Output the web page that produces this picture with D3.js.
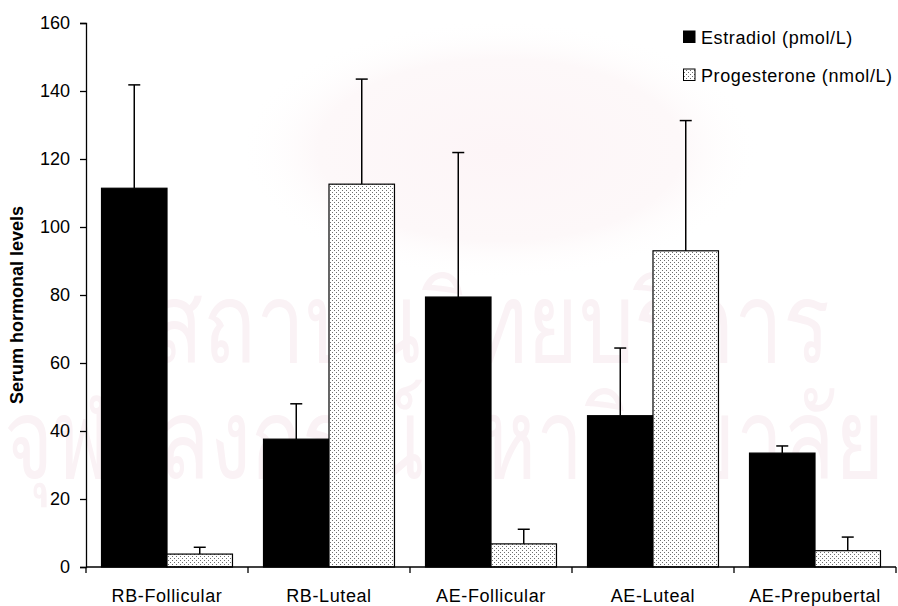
<!DOCTYPE html>
<html>
<head>
<meta charset="utf-8">
<script src="https://cdn.jsdelivr.net/npm/d3@7"></script>
<style>
  html, body { margin: 0; padding: 0; background: #fff; }
  svg { display: block; }
  text { font-family: "Liberation Sans", Arial, sans-serif; fill: #000; }
</style>
</head>
<body>
<svg id="chart" width="898" height="606"></svg>
<script>
// Groups along the x axis
const categories = ["RB-Follicular", "RB-Luteal", "AE-Follicular", "AE-Luteal", "AE-Prepubertal"];
// Series names shown in the legend
const seriesNames = ["Estradiol (pmol/L)", "Progesterone (nmol/L)"];
// Mean values per group
const estradiol = [111.4, 37.6, 79.4, 44.5, 33.5];
const progesterone = [3.8, 112.6, 6.8, 93.0, 4.8];
// Upper ends of the error bars (mean + SD)
const estradiolUpper = [141.8, 48.0, 121.9, 64.4, 35.6];
const progesteroneUpper = [5.8, 143.5, 11.1, 131.3, 8.8];
// Y axis ticks
const yTicks = [0, 20, 40, 60, 80, 100, 120, 140, 160];
const yLabel = "Serum hormonal levels";
// Background watermark text
const watermark = ["สถาบันวิทยบริการ", "จุฬาลงกรณ์มหาวิทยาลัย"];

const svg = d3.select("#chart");
const plotLeft = 86, plotRight = 896, plotTop = 23, plotBottom = 567;

const x = d3.scaleBand().domain(categories).range([plotLeft, plotRight]).paddingInner(0).paddingOuter(0);
const xs = d3.scaleBand().domain(seriesNames).range([0, x.bandwidth()]).paddingInner(0).paddingOuter(0.237);
const y = d3.scaleLinear().domain([0, 160]).range([plotBottom, plotTop]);

// Faint watermark: soft glow behind the top half and two lines of text
const wm = svg.append("g");
const glow = svg.append("defs").append("radialGradient").attr("id", "glow");
glow.append("stop").attr("offset", "0%").attr("stop-color", "#fdf5f7");
glow.append("stop").attr("offset", "70%").attr("stop-color", "#fdf8f9");
glow.append("stop").attr("offset", "100%").attr("stop-color", "#ffffff").attr("stop-opacity", 0);
wm.append("ellipse").attr("cx", 500).attr("cy", 150).attr("rx", 260).attr("ry", 130).attr("fill", "url(#glow)");
wm.append("text").attr("x", 150).attr("y", 362)
  .attr("font-size", 112).attr("textLength", 680).attr("lengthAdjust", "spacingAndGlyphs")
  .style("fill", "#faf2f5").text(watermark[0]);
wm.append("text").attr("x", 4).attr("y", 478)
  .attr("font-size", 112).attr("textLength", 880).attr("lengthAdjust", "spacingAndGlyphs")
  .style("fill", "#faf2f5").text(watermark[1]);

// Dot fill for the progesterone bars
const defs = svg.append("defs");
const pat = defs.append("pattern").attr("id", "dots").attr("patternUnits", "userSpaceOnUse")
  .attr("width", 4).attr("height", 4);
pat.append("rect").attr("width", 4).attr("height", 4).attr("fill", "#fff");
pat.append("rect").attr("x", 0).attr("y", 0).attr("width", 1).attr("height", 1).attr("fill", "#6e6e6e");
pat.append("rect").attr("x", 2).attr("y", 2).attr("width", 1).attr("height", 1).attr("fill", "#6e6e6e");

const series = [
  { name: seriesNames[0], values: estradiol, upper: estradiolUpper, fill: "#000", stroke: "#000" },
  { name: seriesNames[1], values: progesterone, upper: progesteroneUpper, fill: "url(#dots)", stroke: "#000" }
];

// Bars
series.forEach(s => {
  const g = svg.append("g");
  categories.forEach((c, i) => {
    const x0 = x(c) + xs(s.name);
    g.append("rect")
      .attr("x", x0).attr("y", y(s.values[i]))
      .attr("width", xs.bandwidth()).attr("height", y(0) - y(s.values[i]))
      .attr("fill", s.fill).attr("stroke", s.stroke).attr("stroke-width", 1.2);
  });
});

// Error bars (upper only)
series.forEach(s => {
  const g = svg.append("g").attr("stroke", "#000").attr("stroke-width", 1.5);
  categories.forEach((c, i) => {
    const cx = x(c) + xs(s.name) + xs.bandwidth() / 2;
    g.append("line").attr("x1", cx).attr("x2", cx).attr("y1", y(s.values[i])).attr("y2", y(s.upper[i]));
    g.append("line").attr("x1", cx - 6).attr("x2", cx + 6).attr("y1", y(s.upper[i])).attr("y2", y(s.upper[i]));
  });
});

// Y axis
const yAxis = svg.append("g").attr("transform", `translate(${plotLeft},0)`)
  .call(d3.axisLeft(y).tickValues(yTicks).tickSize(6).tickPadding(10).tickFormat(d3.format("d")));
yAxis.select(".domain").attr("stroke", "#000").attr("stroke-width", 1.3);
yAxis.selectAll(".tick line").attr("stroke", "#000").attr("stroke-width", 1.3);
yAxis.selectAll(".tick text").attr("font-size", 18).attr("font-family", "Liberation Sans, Arial, sans-serif");

// X axis: baseline with ticks at group boundaries
const xg = svg.append("g");
xg.append("line").attr("x1", plotLeft).attr("x2", plotRight).attr("y1", y(0)).attr("y2", y(0))
  .attr("stroke", "#000").attr("stroke-width", 1.3);
const bounds = categories.map(c => x(c)).concat([x(categories[categories.length - 1]) + x.bandwidth()]);
bounds.forEach(b => {
  xg.append("line").attr("x1", b).attr("x2", b).attr("y1", y(0)).attr("y2", y(0) + 6)
    .attr("stroke", "#000").attr("stroke-width", 1.3);
});
categories.forEach(c => {
  xg.append("text").attr("x", x(c) + x.bandwidth() / 2).attr("y", 602)
    .attr("text-anchor", "middle").attr("font-size", 18).style("letter-spacing", "0.6px").text(c);
});

// Y axis title
svg.append("text")
  .attr("transform", `translate(23,${(plotTop + plotBottom) / 2 + 10}) rotate(-90)`)
  .attr("text-anchor", "middle").attr("font-size", 18).attr("font-weight", "bold")
  .text(yLabel);

// Legend
const legend = svg.append("g");
series.forEach((s, i) => {
  const ly = 31 + i * 38;
  legend.append("rect").attr("x", 683.5).attr("y", ly).attr("width", 11.5).attr("height", 11.5)
    .attr("fill", s.fill).attr("stroke", "#000").attr("stroke-width", 1);
  legend.append("text").attr("x", 701).attr("y", ly + 12.5).attr("font-size", 18)
    .style("letter-spacing", "0.6px").text(s.name);
});
</script>
</body>
</html>
